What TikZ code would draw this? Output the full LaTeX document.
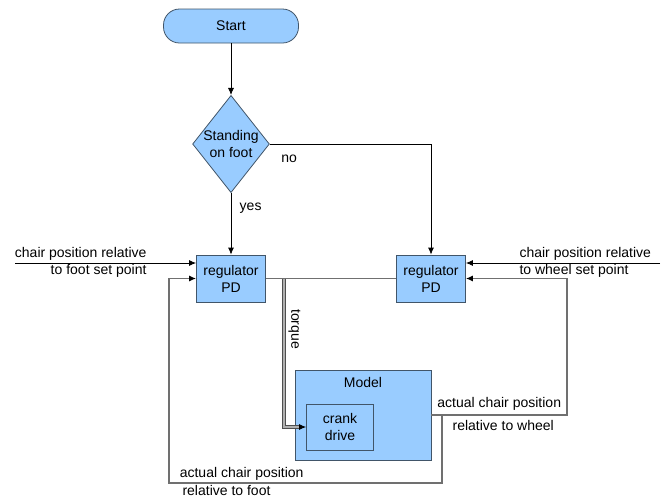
\documentclass[tikz,border=0pt]{standalone}
\usepackage{fontspec}
\setmainfont{Liberation Sans}
\usetikzlibrary{positioning,shapes.geometric,arrows.meta}

\definecolor{boxfill}{RGB}{153,204,255}
\definecolor{boxline}{RGB}{65,85,105}
\definecolor{wire}{RGB}{112,112,112}

\tikzset{
  block/.style={draw=boxline, fill=boxfill, line width=0.8pt, align=center, inner sep=0pt},
  flow/.style={line width=0.8pt, -{Latex[length=7pt,width=6pt]}},
  wire/.style={draw=wire, line width=1.2pt},
  torque/.style={draw=wire!70!black, line width=0.9pt, double=wire!55, double distance=1.6pt}
}

\begin{document}
\begin{tikzpicture}[x=1pt, y=-1pt, font=\fontsize{14}{17}\selectfont]
        \useasboundingbox (0,0) rectangle (666,499);

        \node (start) [block, rounded corners=16pt, minimum width=135pt, minimum height=34pt] at (231,26) {Start};
        \node (decide) [block, diamond, aspect=0.79] at (231,144) {Standing\\on foot};
        \node (regfoot) [block, minimum width=69pt, minimum height=47pt] at (231,278.5) {regulator\\PD};
        \node (regwheel) [block, minimum width=69pt, minimum height=47pt] at (431,278.5) {regulator\\PD};
        \node (model) [block, minimum width=136pt, minimum height=90pt] at (363,415) {};
        \node (modeltitle) [below=4pt of model.north] {Model};
        \node (crank) [block, minimum width=67pt, minimum height=46pt] at (340,427) {crank\\drive};

        \coordinate (footin) at (15,263);
        \coordinate (wheelin) at (660,263);
        \coordinate (torquetap) at (284,278.5);
        \coordinate (wheelturn) at (567,415);
        \coordinate (foottap) at (442,415);
        \coordinate (footturn) at (169,483);

        % decision part
        \draw[flow] (start) -- (decide);
        \draw[flow] (decide) -- node[pos=0.25, anchor=west, xshift=5pt] {yes} (regfoot);
        \draw[flow] (decide.east) -| node[pos=0.06, below=7pt] {no} (regwheel.north);

        % set points
        \node (footset) [align=right, anchor=east] at (150,262) {chair position relative\\to foot set point};
        \node (wheelset) [align=left, anchor=west] at (516,262) {chair position relative\\to wheel set point};
        \draw[flow] (footin) -- (regfoot.west |- footin);
        \draw[flow] (wheelin) -- (regwheel.east |- wheelin);

        % regulator output and torque
        \draw[wire] (regfoot.east) -- (regwheel.west);
        \draw[torque] (torquetap) |- ([xshift=-6pt]crank.west)
          node[pos=0.17, anchor=south, rotate=-90, inner sep=4pt] {torque};
        \draw[flow] ([xshift=-7pt]crank.west) -- (crank.west);

        % feedback loops
        \draw[wire, -{Latex[length=7pt,width=6pt,color=black]}] (model.east) --
          node[above=1pt] {actual chair position}
          node[below=1pt, xshift=4pt] {relative to wheel} (wheelturn) |- (regwheel.east);
        \draw[wire, -{Latex[length=7pt,width=6pt,color=black]}] (foottap) -- (foottap |- footturn) --
          node[pos=0.97, anchor=south west, inner sep=2pt] {actual chair position}
          node[pos=0.96, anchor=north west, inner sep=2pt] {relative to foot} (footturn) |- (regfoot.west);
\end{tikzpicture}
\end{document}
